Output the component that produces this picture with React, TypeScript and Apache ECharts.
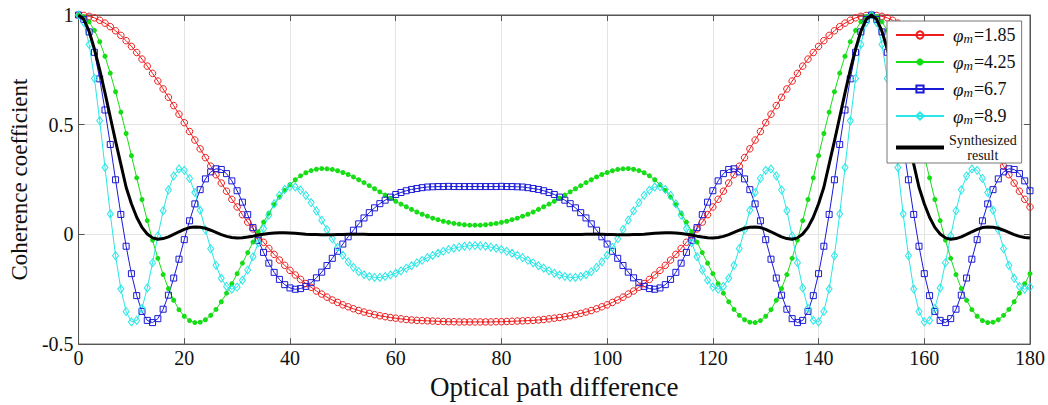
import React, { useEffect, useRef } from "react";
import * as echarts from "echarts";

// Optical path difference (x)
const opd = [
  0, 1, 2, 3, 4, 5, 6, 7, 8, 9, 10, 11, 12, 13, 14, 15, 16, 17, 18, 19,
  20, 21, 22, 23, 24, 25, 26, 27, 28, 29, 30, 31, 32, 33, 34, 35, 36, 37, 38, 39,
  40, 41, 42, 43, 44, 45, 46, 47, 48, 49, 50, 51, 52, 53, 54, 55, 56, 57, 58, 59,
  60, 61, 62, 63, 64, 65, 66, 67, 68, 69, 70, 71, 72, 73, 74, 75, 76, 77, 78, 79,
  80, 81, 82, 83, 84, 85, 86, 87, 88, 89, 90, 91, 92, 93, 94, 95, 96, 97, 98, 99,
  100, 101, 102, 103, 104, 105, 106, 107, 108, 109, 110, 111, 112, 113, 114, 115, 116, 117, 118, 119,
  120, 121, 122, 123, 124, 125, 126, 127, 128, 129, 130, 131, 132, 133, 134, 135, 136, 137, 138, 139,
  140, 141, 142, 143, 144, 145, 146, 147, 148, 149, 150, 151, 152, 153, 154, 155, 156, 157, 158, 159,
  160, 161, 162, 163, 164, 165, 166, 167, 168, 169, 170, 171, 172, 173, 174, 175, 176, 177, 178, 179,
  180,
];

// φm = 1.85
const red185 = [
  1.000,0.998,0.994,0.987,0.976,0.963,0.947,0.928,0.907,0.883,
  0.857,0.829,0.799,0.767,0.734,0.699,0.663,0.625,0.587,0.548,
  0.509,0.469,0.430,0.390,0.350,0.311,0.272,0.234,0.197,0.160,
  0.125,0.090,0.056,0.025,-0.007,-0.036,-0.064,-0.091,-0.117,-0.141,
  -0.164,-0.185,-0.205,-0.224,-0.241,-0.258,-0.272,-0.286,-0.299,-0.310,
  -0.321,-0.330,-0.339,-0.347,-0.354,-0.360,-0.366,-0.371,-0.375,-0.379,
  -0.382,-0.385,-0.388,-0.390,-0.392,-0.393,-0.394,-0.395,-0.396,-0.397,
  -0.398,-0.398,-0.399,-0.399,-0.399,-0.399,
  -0.399,-0.399,-0.399,-0.398,-0.398,
  -0.397,-0.396,-0.395,-0.394,-0.393,
  -0.392,-0.390,-0.388,-0.385,-0.382,
  -0.379,-0.375,-0.371,-0.366,-0.360,
  -0.354,-0.347,-0.339,-0.330,-0.321,
  -0.310,-0.299,-0.286,-0.272,-0.258,
  -0.241,-0.224,-0.205,-0.185,-0.164,
  -0.141,-0.117,-0.091,-0.064,-0.036,
  -0.007,0.025,0.056,0.090,0.125,
  0.160,0.197,0.234,0.272,0.311,
  0.350,0.390,0.430,0.469,0.509,
  0.548,0.587,0.625,0.663,0.699,
  0.734,0.767,0.799,0.829,0.857,
  0.883,0.907,0.928,0.947,0.963,
  0.976,0.987,0.994,0.998,1.000,
  0.998,0.994,0.987,0.976,0.963,0.947,0.928,0.907,0.883,0.857,
  0.829,0.799,0.767,0.734,0.699,0.663,0.625,0.587,0.548,0.509,
  0.469,0.430,0.390,0.350,0.311,0.272,0.234,0.197,0.160,0.125,
];

// φm = 4.25
const green425 = [
  1.000,0.992,0.969,0.930,0.878,0.812,0.735,0.650,0.557,0.460,
  0.359,0.258,0.159,0.063,-0.026,-0.109,-0.183,-0.247,-0.300,-0.343,
  -0.373,-0.393,-0.402,-0.400,-0.389,-0.369,-0.342,-0.307,-0.268,-0.225,
  -0.179,-0.131,-0.083,-0.035,0.012,0.056,0.097,0.136,0.170,0.201,
  0.227,0.249,0.267,0.281,0.291,0.297,0.300,0.299,0.296,0.290,
  0.282,0.273,0.262,0.249,0.236,0.222,0.208,0.194,0.179,0.165,
  0.151,0.138,0.126,0.114,0.102,0.092,0.083,0.074,0.067,0.060,
  0.055,0.050,0.047,0.044,0.042,0.042,
  0.042,0.044,0.047,0.050,0.055,
  0.060,0.067,0.074,0.083,0.092,
  0.102,0.114,0.126,0.138,0.151,
  0.165,0.179,0.194,0.208,0.222,
  0.236,0.249,0.262,0.273,0.282,
  0.290,0.296,0.299,0.300,0.297,
  0.291,0.281,0.267,0.249,0.227,
  0.201,0.170,0.136,0.097,0.056,
  0.012,-0.035,-0.083,-0.131,-0.179,
  -0.225,-0.268,-0.307,-0.342,-0.369,
  -0.389,-0.400,-0.402,-0.393,-0.373,
  -0.343,-0.300,-0.247,-0.183,-0.109,
  -0.026,0.063,0.159,0.258,0.359,
  0.460,0.557,0.650,0.735,0.812,
  0.878,0.930,0.969,0.992,1.000,
  0.992,0.969,0.930,0.878,0.812,0.735,0.650,0.557,0.460,0.359,
  0.258,0.159,0.063,-0.026,-0.109,-0.183,-0.247,-0.300,-0.343,-0.373,
  -0.393,-0.402,-0.400,-0.389,-0.369,-0.342,-0.307,-0.268,-0.225,-0.179,
];

// φm = 6.7
const blue67 = [
  1.000,0.980,0.923,0.830,0.709,0.567,0.410,0.249,0.091,-0.054,
  -0.179,-0.279,-0.351,-0.392,-0.402,-0.384,-0.341,-0.277,-0.199,-0.113,
  -0.024,0.062,0.139,0.204,0.253,0.285,0.299,0.296,0.277,0.244,
  0.199,0.147,0.090,0.031,-0.027,-0.082,-0.131,-0.173,-0.205,-0.229,
  -0.244,-0.250,-0.247,-0.237,-0.220,-0.198,-0.172,-0.142,-0.109,-0.077,
  -0.044,-0.011,0.019,0.048,0.075,0.099,0.121,0.140,0.156,0.170,
  0.182,0.191,0.199,0.205,0.209,0.213,0.216,0.217,0.218,0.218,
  0.219,0.218,0.218,0.218,0.218,0.218,
  0.218,0.218,0.218,0.218,0.219,
  0.218,0.218,0.217,0.216,0.213,
  0.209,0.205,0.199,0.191,0.182,
  0.170,0.156,0.140,0.121,0.099,
  0.075,0.048,0.019,-0.011,-0.044,
  -0.077,-0.109,-0.142,-0.172,-0.198,
  -0.220,-0.237,-0.247,-0.250,-0.244,
  -0.229,-0.205,-0.173,-0.131,-0.082,
  -0.027,0.031,0.090,0.147,0.199,
  0.244,0.277,0.296,0.299,0.285,
  0.253,0.204,0.139,0.062,-0.024,
  -0.113,-0.199,-0.277,-0.341,-0.384,
  -0.402,-0.392,-0.351,-0.279,-0.179,
  -0.054,0.091,0.249,0.410,0.567,
  0.709,0.830,0.923,0.980,1.000,
  0.980,0.923,0.830,0.709,0.567,0.410,0.249,0.091,-0.054,-0.179,
  -0.279,-0.351,-0.392,-0.402,-0.384,-0.341,-0.277,-0.199,-0.113,-0.024,
  0.062,0.139,0.204,0.253,0.285,0.299,0.296,0.277,0.244,0.199,
];

// φm = 8.9
const cyan89 = [
  1.000,0.966,0.866,0.711,0.518,0.305,0.093,-0.097,-0.249,-0.351,
  -0.399,-0.392,-0.337,-0.244,-0.129,-0.007,0.108,0.203,0.267,0.298,
  0.292,0.255,0.191,0.110,0.021,-0.065,-0.141,-0.200,-0.237,-0.250,
  -0.240,-0.209,-0.162,-0.102,-0.038,0.027,0.088,0.139,0.178,0.205,
  0.217,0.216,0.202,0.178,0.145,0.107,0.065,0.022,-0.020,-0.059,
  -0.095,-0.125,-0.150,-0.170,-0.184,-0.192,-0.196,-0.196,-0.192,-0.185,
  -0.177,-0.166,-0.154,-0.143,-0.130,-0.118,-0.106,-0.096,-0.086,-0.077,
  -0.069,-0.063,-0.058,-0.054,-0.052,-0.051,
  -0.052,-0.054,-0.058,-0.063,-0.069,
  -0.077,-0.086,-0.096,-0.106,-0.118,
  -0.130,-0.143,-0.154,-0.166,-0.177,
  -0.185,-0.192,-0.196,-0.196,-0.192,
  -0.184,-0.170,-0.150,-0.125,-0.095,
  -0.059,-0.020,0.022,0.065,0.107,
  0.145,0.178,0.202,0.216,0.217,
  0.205,0.178,0.139,0.088,0.027,
  -0.038,-0.102,-0.162,-0.209,-0.240,
  -0.250,-0.237,-0.200,-0.141,-0.065,
  0.021,0.110,0.191,0.255,0.292,
  0.298,0.267,0.203,0.108,-0.007,
  -0.129,-0.244,-0.337,-0.392,-0.399,
  -0.351,-0.249,-0.097,0.093,0.305,
  0.518,0.711,0.866,0.966,1.000,
  0.966,0.866,0.711,0.518,0.305,0.093,-0.097,-0.249,-0.351,-0.399,
  -0.392,-0.337,-0.244,-0.129,-0.007,0.108,0.203,0.267,0.298,0.292,
  0.255,0.191,0.110,0.021,-0.065,-0.141,-0.200,-0.237,-0.250,-0.240,
];

// Synthesized result
const synthesized = [
  1.000,0.980,0.925,0.845,0.750,0.645,0.535,0.425,0.320,0.215,
  0.140,0.078,0.032,0.002,-0.016,-0.022,-0.019,-0.011,0.000,0.012,
  0.023,0.031,0.034,0.033,0.028,0.019,0.009,-0.001,-0.009,-0.014,
  -0.016,-0.015,-0.012,-0.008,-0.003,0.001,0.004,0.006,0.007,0.007,
  0.006,0.005,0.003,0.001,0.000,-0.001,-0.002,-0.002,-0.002,-0.001,
  0.000,0.001,0.001,0.001,0.001,0.000,0.000,0.000,0.000,0.000,
  0.000,0.000,0.000,0.000,0.000,0.000,0.000,0.000,0.000,0.000,
  0.000,0.000,0.000,0.000,0.000,0.000,
  0.000,0.000,0.000,0.000,0.000,
  0.000,0.000,0.000,0.000,0.000,
  0.000,0.000,0.000,0.000,0.000,
  0.000,0.000,0.000,0.000,0.000,
  0.001,0.001,0.001,0.001,0.000,
  -0.001,-0.002,-0.002,-0.002,-0.001,
  0.000,0.001,0.003,0.005,0.006,
  0.007,0.007,0.006,0.004,0.001,
  -0.003,-0.008,-0.012,-0.015,-0.016,
  -0.014,-0.009,-0.001,0.009,0.019,
  0.028,0.033,0.034,0.031,0.023,
  0.012,0.000,-0.011,-0.019,-0.022,
  -0.016,0.002,0.032,0.078,0.140,
  0.215,0.320,0.425,0.535,0.645,
  0.750,0.845,0.925,0.980,1.000,
  0.980,0.925,0.845,0.750,0.645,0.535,0.425,0.320,0.215,0.140,
  0.078,0.032,0.002,-0.016,-0.022,-0.019,-0.011,0.000,0.012,0.023,
  0.031,0.034,0.033,0.028,0.019,0.009,-0.001,-0.009,-0.014,-0.016,
];

const xTicks = [0, 20, 40, 60, 80, 100, 120, 140, 160, 180];
const yTicks = [-0.5, 0, 0.5, 1];

const seriesNames = ["φm=1.85", "φm=4.25", "φm=6.7", "φm=8.9", "Synthesized result"];

const RED = "#ee1c1c";
const GREEN = "#16dd16";
const BLUE = "#1a1ad6";
const CYAN = "#2ae6e6";
const SERIF = "'Liberation Serif', 'Times New Roman', serif";

const toPairs = (vals: number[]) => opd.map((x, i) => [x, vals[i]]);

export default function App() {
  const ref = useRef<HTMLDivElement>(null);

  useEffect(() => {
    if (!ref.current) return;
    const chart = echarts.init(ref.current, undefined, { renderer: "svg" });

    const axisLineStyle = { color: "#555", width: 1 };
    const xBase = {
      type: "value" as const,
      min: xTicks[0],
      max: xTicks[xTicks.length - 1],
      interval: xTicks[1] - xTicks[0],
    };
    const yBase = {
      type: "value" as const,
      min: yTicks[0],
      max: yTicks[yTicks.length - 1],
      interval: yTicks[1] - yTicks[0],
    };

    const lineSeries = (name: string, vals: number[], color: string, symbol: string, size: any, filled: boolean) => ({
      name,
      type: "line",
      data: toPairs(vals),
      symbol,
      symbolSize: size,
      showSymbol: true,
      showAllSymbol: true,
      lineStyle: { color, width: 1 },
      itemStyle: filled
        ? { color, borderColor: color, borderWidth: 0 }
        : { color: "rgba(255,255,255,0)", borderColor: color, borderWidth: 1 },
      emphasis: { disabled: true },
      z: 2,
    });

    const option: any = {
      animation: false,
      backgroundColor: "#ffffff",
      textStyle: { fontFamily: SERIF },
      grid: {
        left: 72.5,
        right: 18,
        top: 15,
        bottom: 50,
        show: true,
        borderColor: "#555",
        borderWidth: 1,
        backgroundColor: "transparent",
      },
      xAxis: [
        {
          ...xBase,
          position: "bottom",
          axisLine: { show: true, onZero: false, lineStyle: axisLineStyle },
          axisTick: { show: true, inside: true, length: 6, lineStyle: axisLineStyle },
          splitLine: { show: true, lineStyle: { color: "#e4e4e4", width: 1 } },
          axisLabel: { color: "#111", fontFamily: SERIF, fontSize: 20, margin: 4 },
          name: "Optical path difference",
          nameLocation: "middle",
          nameGap: 21,
          nameTextStyle: { color: "#111", fontFamily: SERIF, fontSize: 27 },
        },
        {
          ...xBase,
          position: "top",
          axisLine: { show: true, onZero: false, lineStyle: axisLineStyle },
          axisTick: { show: true, inside: true, length: 6, lineStyle: axisLineStyle },
          splitLine: { show: false },
          axisLabel: { show: false },
        },
      ],
      yAxis: [
        {
          ...yBase,
          position: "left",
          axisLine: { show: true, onZero: false, lineStyle: axisLineStyle },
          axisTick: { show: true, inside: true, length: 6, lineStyle: axisLineStyle },
          splitLine: { show: true, lineStyle: { color: "#e4e4e4", width: 1 } },
          axisLabel: { color: "#111", fontFamily: SERIF, fontSize: 20, margin: 5 },
          name: "Coherence coefficient",
          nameLocation: "middle",
          nameGap: 38,
          nameTextStyle: { color: "#111", fontFamily: SERIF, fontSize: 23 },
        },
        {
          ...yBase,
          position: "right",
          axisLine: { show: true, onZero: false, lineStyle: axisLineStyle },
          axisTick: { show: true, inside: true, length: 6, lineStyle: axisLineStyle },
          splitLine: { show: false },
          axisLabel: { show: false },
        },
      ],
      legend: {
        orient: "vertical",
        left: 887,
        top: 21,
        backgroundColor: "#ffffff",
        borderColor: "#777",
        borderWidth: 1,
        borderRadius: 0,
        padding: [4, 5, 1, 8],
        itemWidth: 48,
        itemHeight: 9,
        itemGap: 7,
        selectedMode: false,
        data: [
          { name: seriesNames[0] },
          { name: seriesNames[1] },
          { name: seriesNames[2] },
          { name: seriesNames[3] },
          { name: seriesNames[4], icon: "path://M0,0H48V4H0Z", itemStyle: { color: "#000" } },
        ],
        formatter: (name: string) => {
          if (name === seriesNames[4]) return "{syn|Synthesized}\n{syn|result}";
          const v = name.split("=")[1];
          return `{phi|φ}{sub|m}{t|=${v}}`;
        },
        textStyle: {
          color: "#111",
          fontFamily: SERIF,
          fontSize: 18,
          rich: {
            phi: { fontFamily: SERIF, fontStyle: "italic", fontSize: 19, lineHeight: 19, padding: [0, 0, 0, 4], color: "#111" },
            sub: { fontFamily: SERIF, fontStyle: "italic", fontSize: 13, lineHeight: 19, padding: [7, 1, 0, 0], color: "#111" },
            t: { fontFamily: SERIF, fontSize: 18, lineHeight: 19, color: "#111" },
            syn: { fontFamily: SERIF, fontSize: 14, lineHeight: 15, align: "center", color: "#111" },
          },
        },
      },
      series: [
        lineSeries(seriesNames[0], red185, RED, "circle", 6.5, false),
        lineSeries(seriesNames[1], green425, GREEN, "circle", 5, true),
        lineSeries(seriesNames[2], blue67, BLUE, "rect", 6, false),
        lineSeries(seriesNames[3], cyan89, CYAN, "diamond", [6, 8], false),
        {
          name: seriesNames[4],
          type: "line",
          data: toPairs(synthesized),
          symbol: "none",
          showSymbol: false,
          lineStyle: { color: "#000", width: 3 },
          itemStyle: { color: "#000" },
          emphasis: { disabled: true },
          z: 3,
        },
      ],
    };

    chart.setOption(option);
    return () => chart.dispose();
  }, []);

  return (
    <div
      ref={ref}
      style={{ position: "absolute", left: 0, top: 0, width: 1048, height: 405 }}
    />
  );
}
